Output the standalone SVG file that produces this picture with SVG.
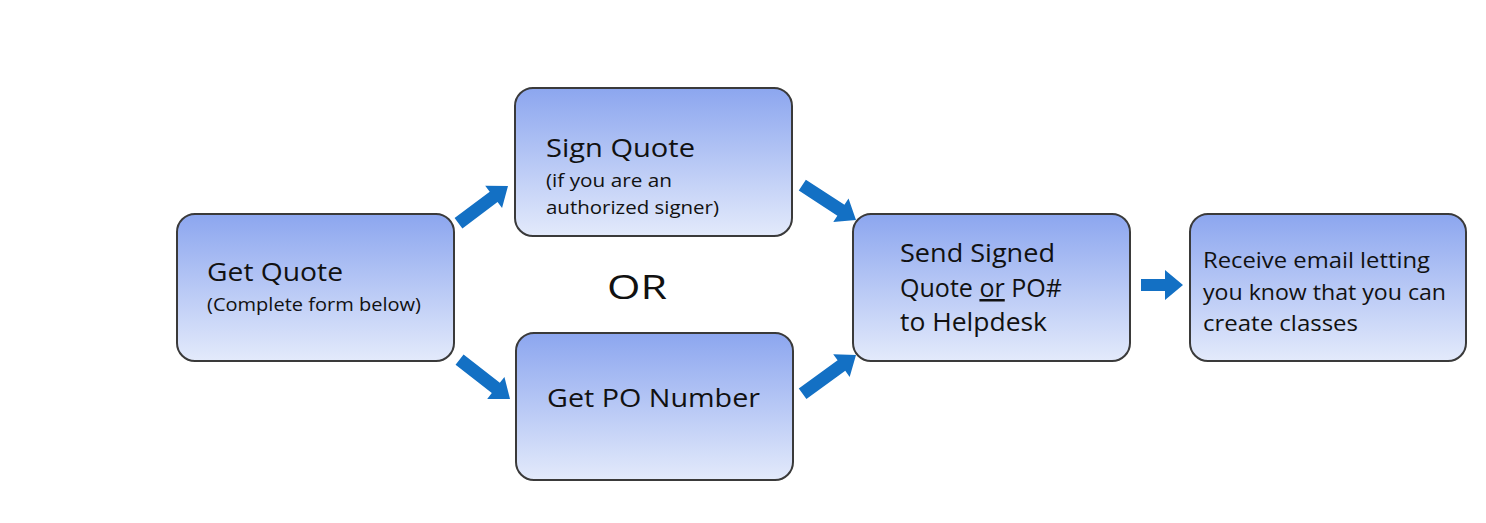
<svg xmlns="http://www.w3.org/2000/svg" width="1486" height="523" viewBox="0 0 1486 523">
<defs>
<linearGradient id="g" x1="0" y1="0" x2="0" y2="1">
<stop offset="0" stop-color="#8ca6ef"/>
<stop offset="1" stop-color="#e3eafb"/>
</linearGradient>
<style>
.box{fill:url(#g);stroke:#3a3a3a;stroke-width:2}
.t{font-family:"Open Sans","DejaVu Sans",sans-serif;fill:#111}
.big{font-size:26px}
.sm{font-size:19px}
.md{font-size:25px}
.rc{font-size:22px}
.arr{fill:#1370c4}
</style>
</defs>
<rect width="1486" height="523" fill="#fff"/>
<g id="n1"><rect class="box" x="177" y="214" width="277" height="147" rx="18"/>
<text class="t big" x="207" y="281" textLength="136" lengthAdjust="spacingAndGlyphs">Get Quote</text>
<text class="t sm" x="207" y="311" textLength="214" lengthAdjust="spacingAndGlyphs">(Complete form below)</text></g>
<g id="n2"><rect class="box" x="515" y="88" width="277" height="148" rx="18"/>
<text class="t big" x="546" y="157" textLength="149" lengthAdjust="spacingAndGlyphs">Sign Quote</text>
<text class="t sm" x="546" y="187" textLength="126" lengthAdjust="spacingAndGlyphs">(if you are an</text>
<text class="t sm" x="546" y="214" textLength="173" lengthAdjust="spacingAndGlyphs">authorized signer)</text></g>
<g id="or"><text class="t" x="607" y="299" font-size="33" textLength="60" lengthAdjust="spacingAndGlyphs">OR</text></g>
<g id="n3"><rect class="box" x="516" y="333" width="277" height="147" rx="18"/>
<text class="t big" x="547" y="407" textLength="213" lengthAdjust="spacingAndGlyphs">Get PO Number</text></g>
<g id="n4"><rect class="box" x="853" y="214" width="277" height="147" rx="18"/>
<text class="t md" x="900" y="262" textLength="155" lengthAdjust="spacingAndGlyphs">Send Signed</text>
<text class="t md" x="900" y="297" textLength="162" lengthAdjust="spacingAndGlyphs">Quote <tspan text-decoration="underline">or</tspan> PO#</text>
<text class="t md" x="900" y="331" textLength="147" lengthAdjust="spacingAndGlyphs">to Helpdesk</text></g>
<g id="n5"><rect class="box" x="1190" y="214" width="276" height="147" rx="18"/>
<text class="t rc" x="1203" y="268" textLength="227" lengthAdjust="spacingAndGlyphs">Receive email letting</text>
<text class="t rc" x="1203" y="300" textLength="243" lengthAdjust="spacingAndGlyphs">you know that you can</text>
<text class="t rc" x="1203" y="331" textLength="155" lengthAdjust="spacingAndGlyphs">create classes</text></g>
<g id="connectors">
<path class="arr" transform="translate(508,186) rotate(-37)" d="M0,0 L-18,-14 L-18,-6.5 L-62,-6.5 L-62,6.5 L-18,6.5 L-18,14 Z"/>
<path class="arr" transform="translate(510,399) rotate(38)" d="M0,0 L-18,-14 L-18,-6.5 L-64,-6.5 L-64,6.5 L-18,6.5 L-18,14 Z"/>
<path class="arr" transform="translate(856,220) rotate(33)" d="M0,0 L-18,-14 L-18,-6.5 L-64,-6.5 L-64,6.5 L-18,6.5 L-18,14 Z"/>
<path class="arr" transform="translate(856,355) rotate(-36)" d="M0,0 L-18,-14 L-18,-6.5 L-66,-6.5 L-66,6.5 L-18,6.5 L-18,14 Z"/>
<path class="arr" transform="translate(1183,285)" d="M0,0 L-18,-15 L-18,-6 L-42,-6 L-42,6 L-18,6 L-18,15 Z"/>
</g>
</svg>
